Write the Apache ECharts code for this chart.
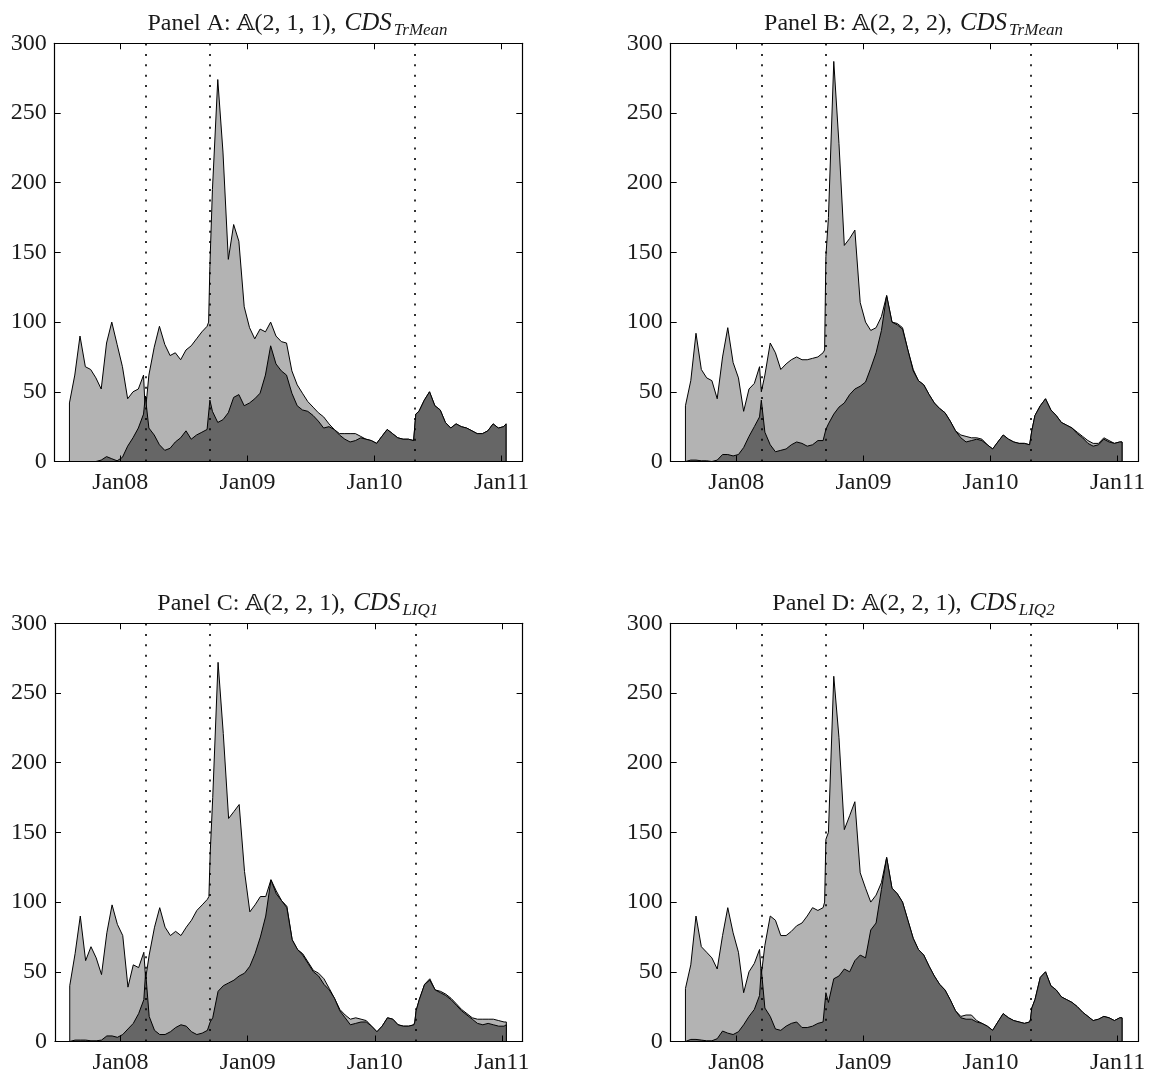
<!DOCTYPE html>
<html>
<head>
<meta charset="utf-8">
<script src="https://cdn.jsdelivr.net/npm/echarts@6/dist/echarts.min.js"></script>
<style>
  html, body { margin: 0; background: #fff; }
  #chart { width: 1153px; height: 1075px; }
</style>
</head>
<body>
<div id="chart"></div>
<script>
// sampling dates (decimal years), semi-monthly plus a few extra points at the event jumps
const dates = [
  2007.600, 2007.642, 2007.683, 2007.725, 2007.767, 2007.808, 2007.850, 2007.892, 2007.933, 2007.975,
  2008.017, 2008.058, 2008.100, 2008.142, 2008.183,
  2008.197,
  2008.225, 2008.267, 2008.308, 2008.350, 2008.392, 2008.433, 2008.475, 2008.517, 2008.558, 2008.600, 2008.642, 2008.683,
  2008.695, 2008.705,
  2008.725, 2008.767, 2008.808, 2008.850, 2008.892, 2008.933, 2008.975, 2009.017, 2009.058, 2009.100,
  2009.142, 2009.183, 2009.225, 2009.267, 2009.308, 2009.350, 2009.392, 2009.433, 2009.475, 2009.517,
  2009.558, 2009.600, 2009.642, 2009.683, 2009.725, 2009.767, 2009.808, 2009.850, 2009.892, 2009.933,
  2009.975, 2010.017, 2010.058, 2010.100, 2010.142, 2010.183, 2010.225, 2010.267, 2010.308,
  2010.315, 2010.325,
  2010.350, 2010.392, 2010.433, 2010.475, 2010.517, 2010.558, 2010.600, 2010.642, 2010.683, 2010.725,
  2010.767, 2010.808, 2010.850, 2010.892, 2010.933, 2010.975, 2011.017,
  2011.035
];

// dotted vertical lines (Bear Stearns, Lehman, Greece)
const eventDates = [2008.197, 2008.698, 2010.319];
const yearTicks = [2008, 2009, 2010, 2011];

const lightA = [
  42, 62, 90, 68, 66, 60, 52, 85, 100, 84, 68, 45, 50, 52, 62,
  35,
  62, 82, 97, 84, 76, 78, 73, 80, 83, 88, 93, 97,
  100, 140,
  195, 274, 222, 145, 170, 158, 111, 96, 88, 95,
  93, 100, 90, 86, 85, 65, 55, 49, 43, 39,
  35, 32, 27, 23, 20, 20, 20, 20, 18, 16,
  15, 13, 18, 23, 20, 17, 16, 16, 15,
  16, 34,
  36, 44, 50, 40, 37, 28, 24, 27, 25, 24,
  22, 20, 20, 22, 27, 24, 25,
  27
];
const darkA = [
  0, 0, 0, 0, 0, 0, 1, 3.5, 2, 0.5, 3, 11, 17, 24, 34,
  47,
  24, 19, 12, 8, 9.5, 14, 17, 22, 16, 19, 21, 23,
  23, 44,
  36, 28, 30, 35, 46, 48, 40, 42, 45, 49,
  62, 83, 70, 65, 62, 49, 40, 37, 36, 33,
  29, 24, 25, 23, 19, 16, 14, 15, 17, 16,
  15, 13, 18, 23, 20, 17, 16, 16, 15,
  16, 34,
  36, 44, 50, 40, 37, 28, 24, 27, 25, 24,
  22, 20, 20, 22, 27, 24, 25,
  27
];
const lightB = [
  40, 58, 92, 66, 60, 58, 45, 75, 96, 71, 60, 36, 52, 56, 68,
  50,
  62, 85, 78, 66, 70, 73, 75, 73, 73, 74, 75, 78,
  80, 147,
  175, 287, 228, 155, 160, 166, 114, 100, 94, 96,
  104, 119, 100, 99, 96, 80, 66, 58, 55, 48,
  42, 38, 35, 29, 22, 19, 18, 17, 17, 16,
  12, 9, 14, 19, 16, 14, 13, 13, 12,
  13, 22,
  33, 40, 45, 37, 33, 28, 26, 24, 21, 18,
  15, 13, 13, 17, 15, 13, 14,
  14
];
const darkB = [
  1, 1, 1, 0.5, 0.5, 0, 1, 5, 5, 4, 5, 10, 18, 25, 32,
  44,
  21, 12, 7, 8, 9, 12, 14, 13, 11, 12, 15, 15,
  15, 23,
  27, 34, 39, 42, 48, 52, 54, 57, 67, 78,
  94, 119, 100, 98, 95, 80, 65, 58, 55, 48,
  42, 38, 35, 29, 22, 17, 14, 15, 16, 15,
  12, 9, 14, 19, 16, 14, 13, 13, 12,
  13, 22,
  33, 40, 45, 37, 33, 28, 26, 24, 20, 17,
  13, 11, 12, 16, 14, 13, 14,
  14
];
const lightC = [
  40, 63, 90, 58, 68, 60, 48, 78, 98, 84, 76, 39, 55, 53, 64,
  45,
  62, 82, 96, 82, 76, 79, 76, 82, 87, 94, 98, 102,
  104, 135,
  175, 272, 221, 160, 165, 170, 122, 93, 98, 104,
  104, 116, 108, 101, 97, 73, 66, 63, 57, 51,
  49, 45, 38, 31, 23, 19, 16, 17, 16, 15,
  11, 7, 11, 17, 16, 12, 11, 11, 12,
  14, 22,
  30, 41, 45, 37, 36, 34, 31, 27, 23, 20,
  17, 16, 16, 16, 16, 15, 14,
  14
];
const darkC = [
  1, 1, 1, 1, 0.5, 0.5, 1, 4, 4, 3, 5, 9, 13, 20, 30,
  50,
  18, 8, 5, 5, 7, 10, 12, 11, 7, 5, 6, 8,
  9, 14,
  17, 36, 40, 42, 44, 47, 49, 54, 63, 75,
  90, 116, 106, 101, 96, 73, 66, 62, 56, 50,
  47, 41, 37, 31, 22, 17, 12, 13, 14, 14,
  11, 7, 11, 17, 16, 12, 11, 11, 12,
  14, 22,
  30, 41, 44, 37, 35, 33, 30, 26, 22, 19,
  16, 13, 12, 13, 12, 11, 11,
  12
];
const lightD = [
  38, 55, 90, 68, 64, 60, 52, 76, 96, 78, 64, 35, 50, 56, 66,
  48,
  69, 90, 87, 76, 76, 79, 83, 85, 90, 96, 94, 96,
  100, 145,
  150, 262, 218, 152, 162, 172, 121, 110, 100, 105,
  114, 132, 110, 106, 100, 87, 74, 66, 62, 54,
  47, 41, 37, 30, 22, 18, 19, 19, 15, 13,
  11, 8, 14, 20, 17, 15, 14, 13, 14,
  16, 24,
  30, 46, 50, 40, 37, 32, 30, 28, 25, 21,
  18, 15, 16, 18, 17, 15, 17,
  17
];
const darkD = [
  1, 1.5, 1.5, 1, 0.5, 0.5, 2, 7.5, 6, 5, 7, 12, 18, 23, 33,
  52,
  24, 18, 9, 8, 11, 13, 14, 10, 10, 11, 13, 14,
  15, 35,
  28, 45, 47, 52, 50, 58, 62, 60, 80, 85,
  109, 132, 110, 106, 100, 87, 74, 66, 62, 54,
  47, 41, 37, 30, 22, 17, 16, 16, 14, 13,
  11, 8, 14, 20, 17, 15, 14, 13, 14,
  16, 24,
  30, 46, 50, 40, 37, 32, 30, 28, 25, 21,
  18, 15, 16, 18, 17, 15, 17,
  17
];

const panels = [
  { name: 'A', model: '2, 1, 1', sub: 'TrMean', light: lightA, dark: darkA },
  { name: 'B', model: '2, 2, 2', sub: 'TrMean', light: lightB, dark: darkB },
  { name: 'C', model: '2, 2, 1', sub: 'LIQ1', light: lightC, dark: darkC },
  { name: 'D', model: '2, 2, 1', sub: 'LIQ2', light: lightD, dark: darkD }
];

const boxes = [
  { left: 54.7, top: 43.3 },
  { left: 670.7, top: 43.3 },
  { left: 55, top: 623.3 },
  { left: 670.7, top: 623.3 }
];
const boxW = 467.6, boxH = 418.2;
const serif = "'Liberation Serif', 'DejaVu Serif', serif";
const ink = '#1a1a1a';

// close the area at both ends so the outline drops to zero like the original
const toPairs = vals => {
  const pts = vals.map((v, i) => [dates[i], v]);
  return [[dates[0], 0], ...pts, [dates[dates.length - 1], 0]];
};

const chart = echarts.init(document.getElementById('chart'));

const grid = [], xAxis = [], yAxis = [], series = [], title = [];

panels.forEach((p, i) => {
  const b = boxes[i];
  grid.push({ left: b.left, top: b.top, width: boxW, height: boxH, containLabel: false });

  title.push({
    text: `{n|Panel ${p.name}: }{bb|𝔸}{n|(${p.model}), }{i|CDS}{s|${p.sub}}`,
    left: b.left + boxW / 2 + 4,
    top: b.top - 40,
    textAlign: 'center',
    textStyle: {
      fontWeight: 'normal',
      rich: {
        n: { fontFamily: serif, fontSize: 24, fontWeight: 'normal', color: ink, lineHeight: 28 },
        bb: { fontFamily: "'DejaVu Serif', 'DejaVu Sans', serif", fontSize: 23, fontWeight: 'normal', color: ink, lineHeight: 28 },
        i: { fontFamily: serif, fontSize: 25, fontStyle: 'italic', fontWeight: 'normal', color: ink, lineHeight: 28, padding: [0, 1, 0, 2] },
        s: { fontFamily: serif, fontSize: 17, fontStyle: 'italic', fontWeight: 'normal', color: ink, padding: [14, 0, 0, 1] }
      }
    }
  });

  const xBase = {
    type: 'value', gridIndex: i, min: 2007.484, max: 2011.163, z: 10,
    axisLine: { onZero: false, lineStyle: { color: '#000', width: 1.2 } },
    axisTick: { inside: true, length: 6, customValues: yearTicks, lineStyle: { color: '#000' } },
    splitLine: { show: false }
  };
  xAxis.push(Object.assign({}, xBase, {
    position: 'bottom',
    axisLabel: {
      customValues: yearTicks, margin: 9,
      formatter: v => 'Jan' + String(v).slice(2),
      fontFamily: serif, fontSize: 24, color: ink
    }
  }));
  xAxis.push(Object.assign({}, xBase, { position: 'top', axisLabel: { show: false } }));

  const yBase = {
    type: 'value', gridIndex: i, min: 0, max: 300, interval: 50, z: 10,
    axisLine: { show: true, onZero: false, lineStyle: { color: '#000', width: 1.2 } },
    axisTick: { show: true, inside: true, length: 6, lineStyle: { color: '#000' } },
    splitLine: { show: false }
  };
  yAxis.push(Object.assign({}, yBase, {
    position: 'left',
    axisLabel: { margin: 8, fontFamily: serif, fontSize: 24, color: ink }
  }));
  yAxis.push(Object.assign({}, yBase, { position: 'right', axisLabel: { show: false } }));

  const common = {
    type: 'line', xAxisIndex: 2 * i, yAxisIndex: 2 * i,
    symbol: 'none', showSymbol: false, silent: true,
    lineStyle: { color: '#000', width: 1 }
  };
  series.push(Object.assign({}, common, {
    name: 'light' + p.name, z: 2,
    data: toPairs(p.light),
    areaStyle: { color: '#b3b3b3', opacity: 1 }
  }));
  series.push(Object.assign({}, common, {
    name: 'dark' + p.name, z: 3,
    data: toPairs(p.dark),
    areaStyle: { color: '#666666', opacity: 1 },
    markLine: {
      silent: true, symbol: 'none', animation: false,
      label: { show: false },
      lineStyle: { color: '#000', type: [2, 8.4], width: 1.6 },
      data: eventDates.map(d => ({ xAxis: d }))
    }
  }));
});

chart.setOption({
  animation: false,
  backgroundColor: '#fff',
  title, grid, xAxis, yAxis, series
});

window.addEventListener('resize', () => chart.resize());
</script>
</body>
</html>
